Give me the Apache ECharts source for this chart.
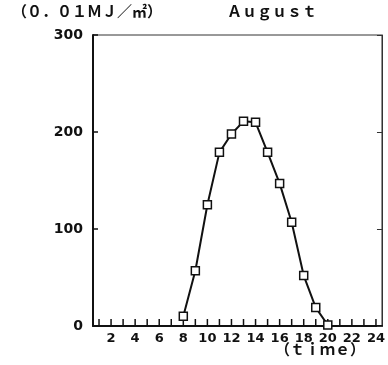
<!DOCTYPE html>
<html>
<head>
<meta charset="utf-8">
<script src="https://cdn.jsdelivr.net/npm/echarts@6/dist/echarts.min.js"></script>
<style>
  html, body { margin: 0; padding: 0; background: #fff; }
  #chart { width: 388px; height: 365px; }
</style>
</head>
<body>
<div id="chart"></div>
<script>
// Hourly solar radiation in August (unit: 0.01 MJ/m²)
const hours = [8, 9, 10, 11, 12, 13, 14, 15, 16, 17, 18, 19, 20];
const radiation = [10, 57, 125, 179, 198, 211, 210, 179, 147, 107, 52, 19, 1];
const hourTicks = [1, 2, 3, 4, 5, 6, 7, 8, 9, 10, 11, 12, 13, 14, 15, 16, 17, 18, 19, 20, 21, 22, 23, 24];
const hourLabels = [2, 4, 6, 8, 10, 12, 14, 16, 18, 20, 22, 24];

const ink = '#111';
const chart = echarts.init(document.getElementById('chart'), null, { renderer: 'canvas' });

chart.setOption({
  backgroundColor: '#fff',
  animation: false,
  grid: {
    left: 93, top: 35, right: 2, bottom: 39,
    show: true, borderColor: '#333', borderWidth: 1
  },
  graphic: [
    {
      type: 'text', left: 12, top: 4,
      style: { text: '（０．０１ＭＪ／㎡）', font: 'bold 15px "Noto Sans CJK JP"', fill: ink }
    },
    {
      type: 'text', left: 227, top: 4,
      style: { text: 'Ａｕｇｕｓｔ', font: 'bold 15px "Noto Sans CJK JP"', fill: ink }
    },
    {
      type: 'text', left: 275, top: 342,
      style: { text: '（ｔｉｍｅ）', font: 'bold 15px "Noto Sans CJK JP"', fill: ink }
    }
  ],
  xAxis: {
    type: 'value', min: 0.5, max: 24.5,
    axisLine: { show: true, onZero: false, lineStyle: { color: ink, width: 2 } },
    axisTick: { show: false },
    axisLabel: {
      customValues: hourLabels, margin: 6,
      fontFamily: 'DejaVu Sans', fontWeight: 'bold', fontSize: 13, color: ink
    },
    splitLine: { show: false }
  },
  yAxis: [
    {
      type: 'value', min: 0, max: 300, interval: 100,
      axisLine: { show: true, lineStyle: { color: ink, width: 2 } },
      axisTick: { show: true, inside: true, length: 5, lineStyle: { color: ink, width: 1.5 } },
      axisLabel: {
        margin: 10,
        fontFamily: 'DejaVu Sans', fontWeight: 'bold', fontSize: 14, color: ink
      },
      splitLine: { show: false }
    },
    {
      type: 'value', min: 0, max: 300, interval: 100, position: 'right',
      axisLine: { show: true, lineStyle: { color: '#333', width: 1 } },
      axisTick: { show: true, inside: true, length: 5, lineStyle: { color: '#333', width: 1 } },
      axisLabel: { show: false },
      splitLine: { show: false }
    }
  ],
  series: [
    {
      // hourly tick marks standing up from the time axis
      type: 'custom',
      data: hourTicks.map(h => [h, 0]),
      silent: true,
      z: 3,
      renderItem: function (params, api) {
        const p = api.coord([api.value(0), 0]);
        return {
          type: 'line',
          shape: { x1: p[0], y1: p[1], x2: p[0], y2: p[1] - 7 },
          style: { stroke: ink, lineWidth: 1.5 }
        };
      }
    },
    {
      type: 'line',
      data: hours.map((h, i) => [h, radiation[i]]),
      symbol: 'rect', symbolSize: 8,
      z: 4,
      itemStyle: { color: '#fff', borderColor: ink, borderWidth: 1.5 },
      lineStyle: { color: ink, width: 2 }
    }
  ]
});
</script>
</body>
</html>
